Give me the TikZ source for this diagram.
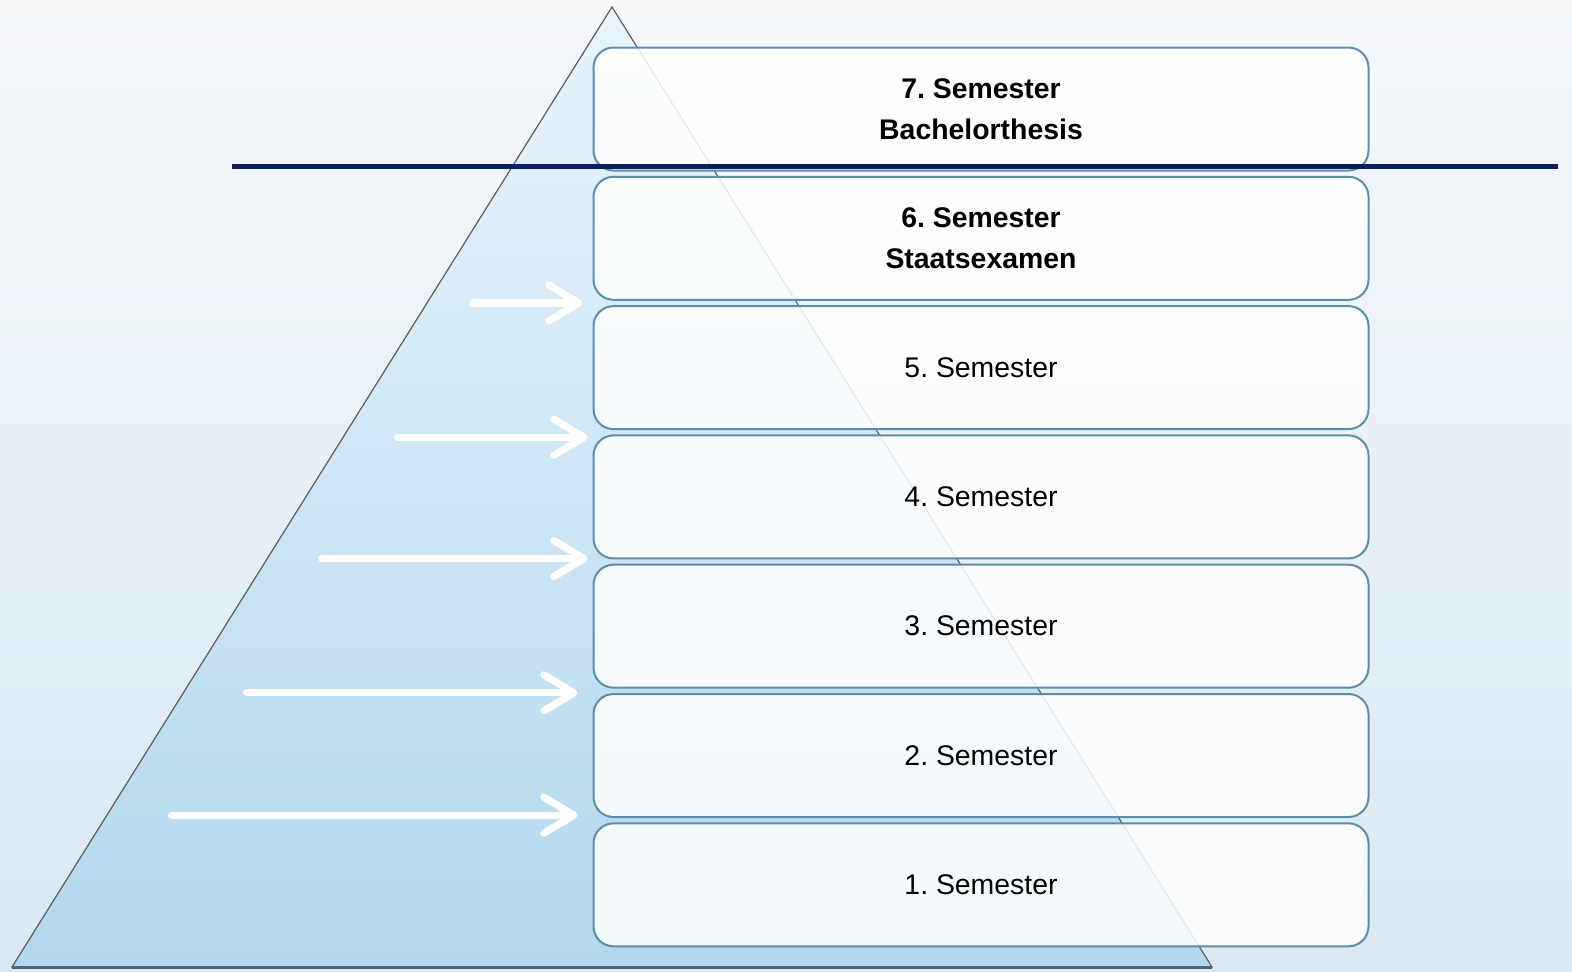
\documentclass[tikz,border=0pt]{standalone}
\usepackage{fontspec}
\setmainfont{Liberation Sans}
\usetikzlibrary{arrows.meta,positioning,calc}
\definecolor{bgtop}{HTML}{F6F8FA}
\definecolor{bgbot}{HTML}{D9E8F2}
\definecolor{pyrtop}{HTML}{E8F4FB}
\definecolor{pyrbot}{HTML}{B3D7EE}
\definecolor{pyredge}{HTML}{5A5F63}
\definecolor{pyrbase}{HTML}{4C6672}
\definecolor{semline}{HTML}{5B8FA8}
\definecolor{cutline}{HTML}{0A1F5E}
\frenchspacing
\tikzset{
    >={Straight Barb[length=15pt,width=18pt,round]} % open chevron tip
}
\tikzstyle{semester}=[
    draw = semline,
    line width = 1pt,
    rounded corners = 10pt,
    fill = white,
    fill opacity = 0.85,
    text opacity = 1,
    minimum width = 387.5pt,
    minimum height = 61.5pt,
    align = center,
    font = \fontsize{14.2}{20.5}\selectfont
]
\tikzstyle{flow}=[->, white, line width = 3.6pt, line cap = round]
\tikzstyle{cut}=[cutline, line width = 2.5pt]

\begin{document}
\begin{tikzpicture}[x=0.5pt, y=-0.5pt, node distance=2.15pt]
    \useasboundingbox (0,0) rectangle (1572,971);
    \shade[top color=bgtop, bottom color=bgbot] (0,0) rectangle (1572,971);

    % pyramid
    \shade[top color=pyrtop, bottom color=pyrbot, draw=pyredge, line width=0.6pt]
        (612,7) -- (1212,967) -- (12,967) -- cycle;
    \draw[pyrbase, line width=1.5pt] (12,967) -- (1212,967);

    \node[semester, font=\fontsize{14.2}{20.5}\selectfont\bfseries] (s7) at (981,109)
        {7. Semester\\Bachelorthesis};
    \node[semester, font=\fontsize{14.2}{20.5}\selectfont\bfseries, below=of s7] (s6)
        {6. Semester\\Staatsexamen};
    \node[semester, below=of s6] (s5) {5. Semester};
    \node[semester, below=of s5] (s4) {4. Semester};
    \node[semester, below=of s4] (s3) {3. Semester};
    \node[semester, below=of s3] (s2) {2. Semester};
    \node[semester, below=of s2] (s1) {1. Semester};

    \foreach \up/\lo/\len/\gap/\dy in {s6/s5/120/10/0, s5/s4/195/5/5, s4/s3/271/5/-3, s3/s2/346/15/2, s2/s1/421/15/-5} {
        \coordinate (g\lo) at ($(\up.south west)!.5!(\lo.north west)+(0,\dy)$);
        \coordinate (t\lo) at ($(g\lo)+(-\len,0)$);
        \draw[flow] (t\lo) -- ($(g\lo)+(-\gap,0)$);
    }

    \coordinate (cutl) at (232,166);
    \coordinate (cutr) at (1558,166);
    \draw[cut] (cutl) -- (cutr);
\end{tikzpicture}
\end{document}
